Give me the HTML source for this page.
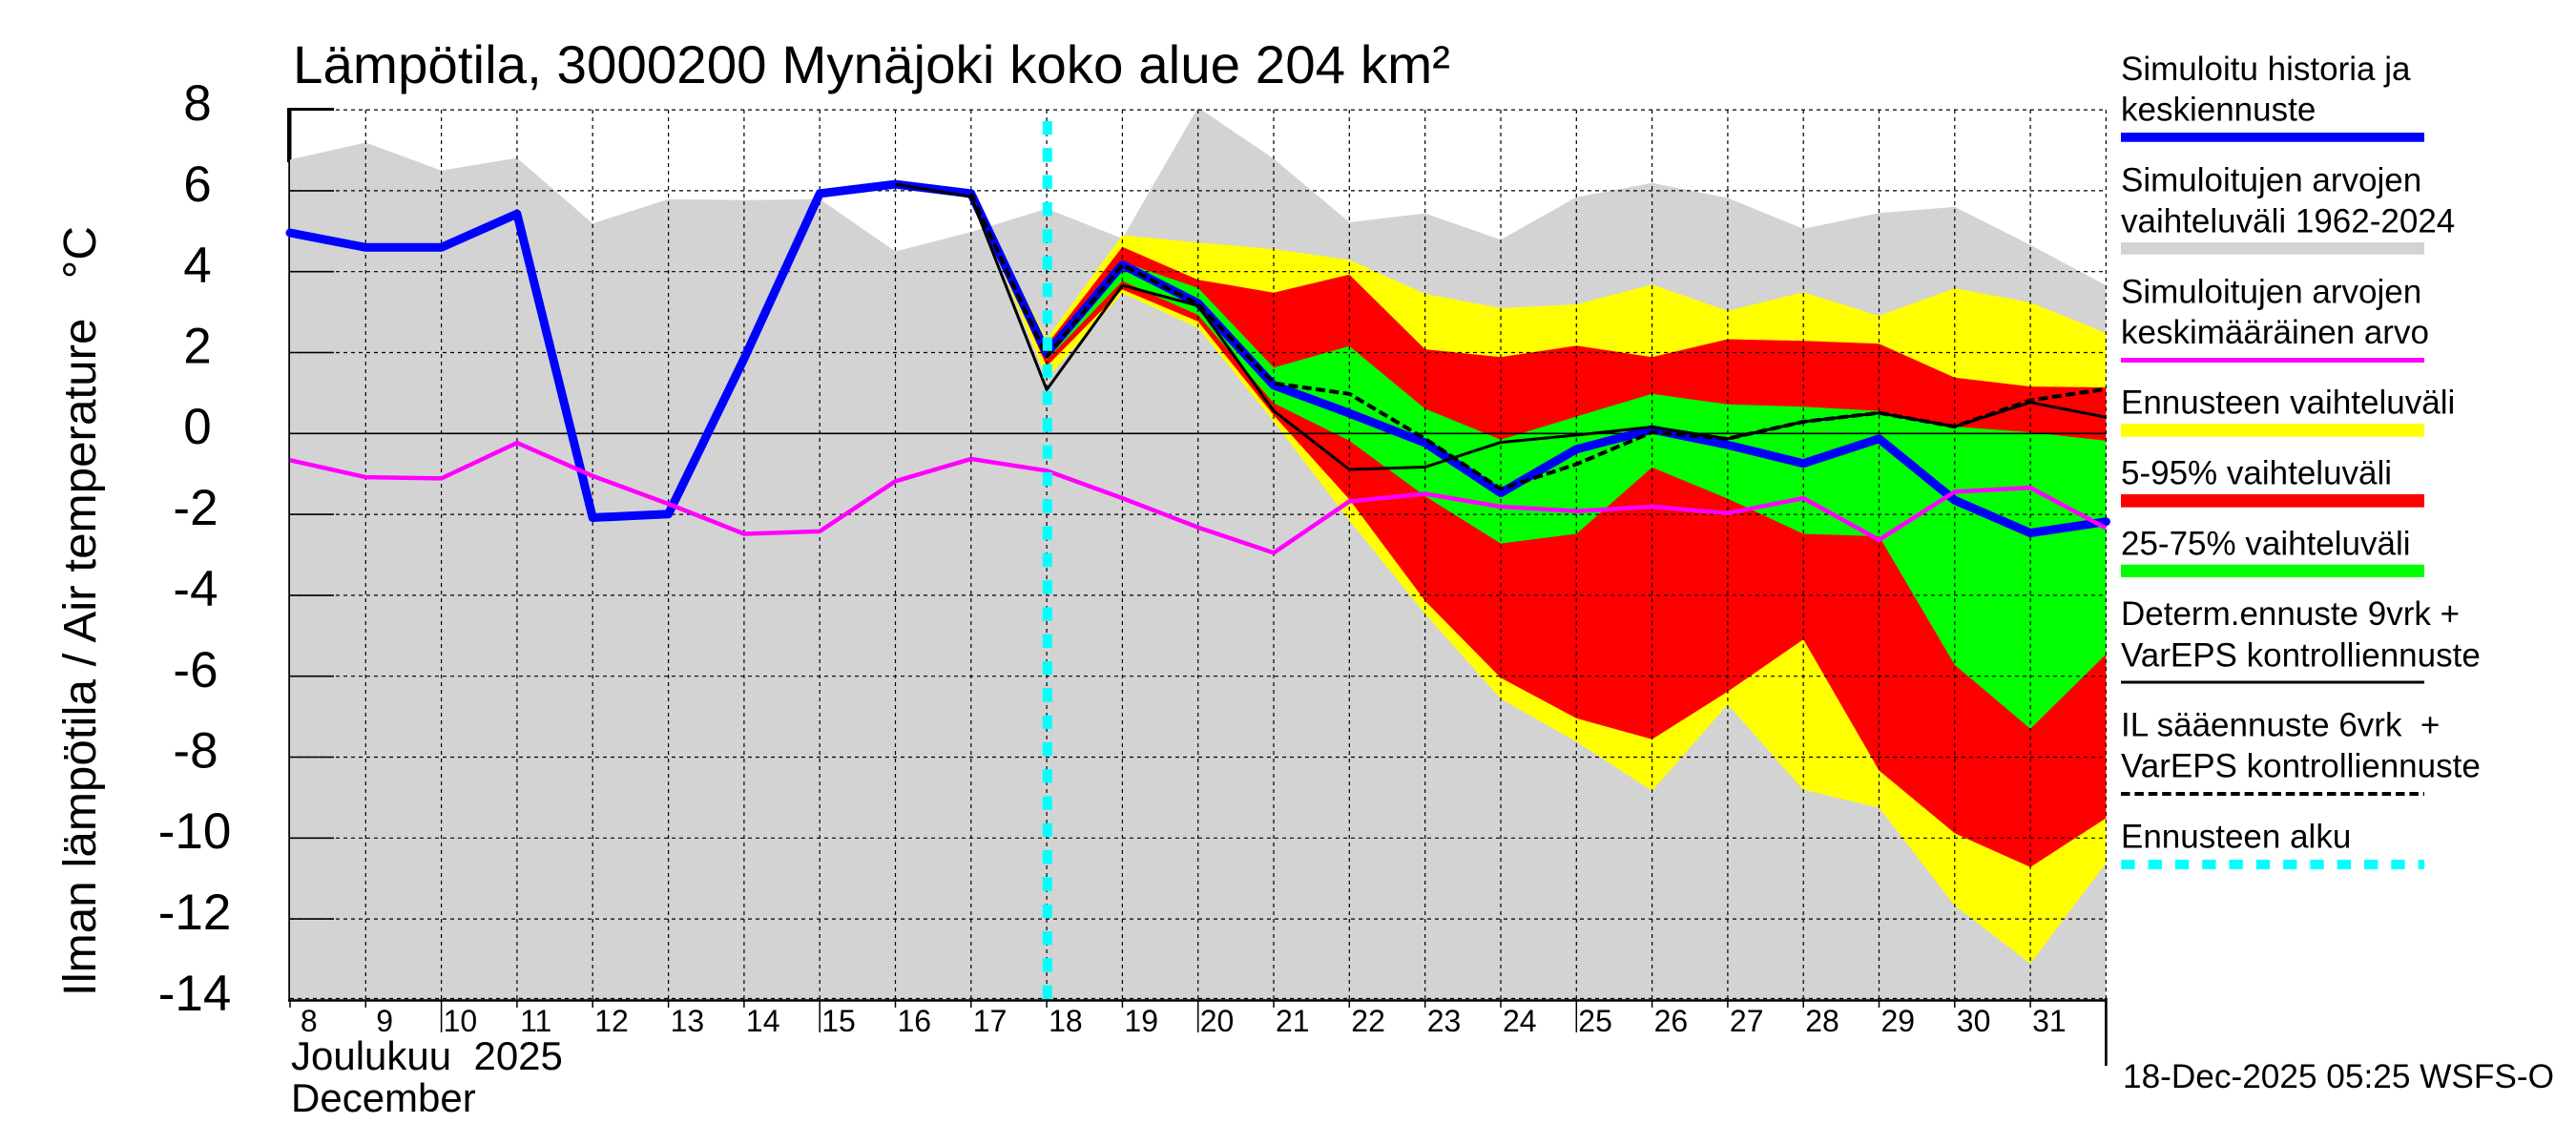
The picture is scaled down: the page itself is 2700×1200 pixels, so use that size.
<!DOCTYPE html>
<html>
<head>
<meta charset="utf-8">
<style>
html,body{margin:0;padding:0;background:#fff;}
svg{display:block;}
text{font-family:"Liberation Sans",Arial,sans-serif;fill:#000;}
</style>
</head>
<body>
<svg width="2700" height="1200" viewBox="0 0 2700 1200" xmlns="http://www.w3.org/2000/svg">
<rect x="0" y="0" width="2700" height="1200" fill="#fff"/>

<!-- left axis thick line (partially covered by grey) -->
<line x1="304" y1="113" x2="304" y2="1049" stroke="#000" stroke-width="3"/>

<!-- grey historical range -->
<polygon fill="#d3d3d3" points="304,167.3 383.3,149.4 462.6,178.7 541.9,165.6 621.2,234.2 700.6,208.8 779.9,209.7 859.2,208.8 938.5,263.5 1017.8,243.1 1097.1,218.6 1176.4,249.9 1255.7,112.6 1335,166.4 1414.3,233 1493.7,223.6 1573,251.2 1652.3,206.7 1731.6,191.8 1810.9,207.5 1890.2,239.8 1969.5,223.2 2048.8,216.9 2128.1,256.7 2207.4,299.1 2207.4,1048 304,1048"/>

<!-- yellow forecast range -->
<polygon fill="#ffff00" points="1017.8,202.9 1097.1,354.7 1176.4,246.5 1255.7,254.2 1335,261 1414.3,272.4 1493.7,308 1573,322.9 1652.3,319 1731.6,298.3 1810.9,325.8 1890.2,306.3 1969.5,330.9 2048.8,302.1 2128.1,316.9 2207.4,349.1 2207.4,904.6 2128.1,1009.7 2048.8,949.1 1969.5,846.5 1890.2,827.8 1810.9,738.4 1731.6,828.7 1652.3,777.4 1573,732.4 1493.7,643.4 1414.3,545.5 1335,441.6 1255.7,343.6 1176.4,307.2 1097.1,397.1"/>

<!-- red 5-95% -->
<polygon fill="#ff0000" points="1017.8,202.9 1097.1,361.4 1176.4,258.8 1255.7,293.2 1335,306.7 1414.3,287.7 1493.7,366.1 1573,374.2 1652.3,362.3 1731.6,374.2 1810.9,355.5 1890.2,357.2 1969.5,360.2 2048.8,395.8 2128.1,405.1 2207.4,406 2207.4,857.5 2128.1,908.8 2048.8,873.2 1969.5,807.5 1890.2,670.1 1810.9,724.8 1731.6,774.8 1652.3,752.8 1573,710.4 1493.7,629.8 1414.3,523.4 1335,435.2 1255.7,336.9 1176.4,303.4 1097.1,383.9"/>

<!-- green 25-75% -->
<polygon fill="#00ff00" points="1017.8,202.9 1097.1,368.2 1176.4,274.5 1255.7,301.7 1335,385.2 1414.3,362.7 1493.7,428.4 1573,460.7 1652.3,436.5 1731.6,412.7 1810.9,423.8 1890.2,426.3 1969.5,430.6 2048.8,447.1 2128.1,453 2207.4,461.9 2207.4,685.8 2128.1,763.8 2048.8,696.8 1969.5,562 1890.2,559.5 1810.9,522.6 1731.6,489.9 1652.3,559.5 1573,569.6 1493.7,520 1414.3,461.9 1335,422.5 1255.7,330.1 1176.4,294.5 1097.1,377.1"/>

<!-- grid: horizontal dashed -->
<g stroke="#000" stroke-width="1.2" stroke-dasharray="4,4" fill="none">
<line x1="304" y1="115.1" x2="2207.4" y2="115.1"/>
<line x1="304" y1="199.9" x2="2207.4" y2="199.9"/>
<line x1="304" y1="284.7" x2="2207.4" y2="284.7"/>
<line x1="304" y1="369.5" x2="2207.4" y2="369.5"/>
<line x1="304" y1="539.1" x2="2207.4" y2="539.1"/>
<line x1="304" y1="623.9" x2="2207.4" y2="623.9"/>
<line x1="304" y1="708.7" x2="2207.4" y2="708.7"/>
<line x1="304" y1="793.5" x2="2207.4" y2="793.5"/>
<line x1="304" y1="878.3" x2="2207.4" y2="878.3"/>
<line x1="304" y1="963.1" x2="2207.4" y2="963.1"/>
<line x1="304" y1="1046.5" x2="2207.4" y2="1046.5"/>
</g>
<!-- grid: vertical dashed -->
<g stroke="#000" stroke-width="1.2" stroke-dasharray="4,4" fill="none">
<line x1="383.3" y1="115" x2="383.3" y2="1048"/>
<line x1="462.6" y1="115" x2="462.6" y2="1048"/>
<line x1="541.9" y1="115" x2="541.9" y2="1048"/>
<line x1="621.2" y1="115" x2="621.2" y2="1048"/>
<line x1="700.6" y1="115" x2="700.6" y2="1048"/>
<line x1="779.9" y1="115" x2="779.9" y2="1048"/>
<line x1="859.2" y1="115" x2="859.2" y2="1048"/>
<line x1="938.5" y1="115" x2="938.5" y2="1048"/>
<line x1="1017.8" y1="115" x2="1017.8" y2="1048"/>
<line x1="1097.1" y1="115" x2="1097.1" y2="1048"/>
<line x1="1176.4" y1="115" x2="1176.4" y2="1048"/>
<line x1="1255.7" y1="115" x2="1255.7" y2="1048"/>
<line x1="1335" y1="115" x2="1335" y2="1048"/>
<line x1="1414.3" y1="115" x2="1414.3" y2="1048"/>
<line x1="1493.7" y1="115" x2="1493.7" y2="1048"/>
<line x1="1573" y1="115" x2="1573" y2="1048"/>
<line x1="1652.3" y1="115" x2="1652.3" y2="1048"/>
<line x1="1731.6" y1="115" x2="1731.6" y2="1048"/>
<line x1="1810.9" y1="115" x2="1810.9" y2="1048"/>
<line x1="1890.2" y1="115" x2="1890.2" y2="1048"/>
<line x1="1969.5" y1="115" x2="1969.5" y2="1048"/>
<line x1="2048.8" y1="115" x2="2048.8" y2="1048"/>
<line x1="2128.1" y1="115" x2="2128.1" y2="1048"/>
<line x1="2207.4" y1="115" x2="2207.4" y2="1048"/>
</g>

<!-- zero line -->
<line x1="304" y1="454.3" x2="2207.4" y2="454.3" stroke="#000" stroke-width="1.6"/>

<!-- y ticks (inward solid) -->
<g stroke="#000" stroke-width="1.6">
<line x1="304" y1="199.9" x2="350" y2="199.9"/>
<line x1="304" y1="284.7" x2="350" y2="284.7"/>
<line x1="304" y1="369.5" x2="350" y2="369.5"/>
<line x1="304" y1="539.1" x2="350" y2="539.1"/>
<line x1="304" y1="623.9" x2="350" y2="623.9"/>
<line x1="304" y1="708.7" x2="350" y2="708.7"/>
<line x1="304" y1="793.5" x2="350" y2="793.5"/>
<line x1="304" y1="878.3" x2="350" y2="878.3"/>
<line x1="304" y1="963.1" x2="350" y2="963.1"/>
</g>
<line x1="302.5" y1="114.5" x2="350" y2="114.5" stroke="#000" stroke-width="3"/>
<line x1="302.5" y1="113" x2="302.5" y2="170" stroke="#000" stroke-width="3"/>
<line x1="303" y1="170" x2="303" y2="1048" stroke="#000" stroke-width="1.5"/>

<!-- bottom axis -->
<line x1="302" y1="1048.5" x2="2208.5" y2="1048.5" stroke="#000" stroke-width="2.6"/>
<!-- x ticks -->
<g stroke="#000" stroke-width="1.5">
<line x1="304" y1="1048" x2="304" y2="1056"/>
<line x1="383.3" y1="1048" x2="383.3" y2="1056"/>
<line x1="462.6" y1="1048" x2="462.6" y2="1082"/>
<line x1="541.9" y1="1048" x2="541.9" y2="1056"/>
<line x1="621.2" y1="1048" x2="621.2" y2="1056"/>
<line x1="700.6" y1="1048" x2="700.6" y2="1056"/>
<line x1="779.9" y1="1048" x2="779.9" y2="1056"/>
<line x1="859.2" y1="1048" x2="859.2" y2="1082"/>
<line x1="938.5" y1="1048" x2="938.5" y2="1056"/>
<line x1="1017.8" y1="1048" x2="1017.8" y2="1056"/>
<line x1="1097.1" y1="1048" x2="1097.1" y2="1056"/>
<line x1="1176.4" y1="1048" x2="1176.4" y2="1056"/>
<line x1="1255.7" y1="1048" x2="1255.7" y2="1082"/>
<line x1="1335" y1="1048" x2="1335" y2="1056"/>
<line x1="1414.3" y1="1048" x2="1414.3" y2="1056"/>
<line x1="1493.7" y1="1048" x2="1493.7" y2="1056"/>
<line x1="1573" y1="1048" x2="1573" y2="1056"/>
<line x1="1652.3" y1="1048" x2="1652.3" y2="1082"/>
<line x1="1731.6" y1="1048" x2="1731.6" y2="1056"/>
<line x1="1810.9" y1="1048" x2="1810.9" y2="1056"/>
<line x1="1890.2" y1="1048" x2="1890.2" y2="1056"/>
<line x1="1969.5" y1="1048" x2="1969.5" y2="1056"/>
<line x1="2048.8" y1="1048" x2="2048.8" y2="1056"/>
<line x1="2128.1" y1="1048" x2="2128.1" y2="1056"/>
</g>
<line x1="2207.4" y1="1046" x2="2207.4" y2="1117" stroke="#000" stroke-width="2.7"/>

<!-- blue simulated history -->
<polyline fill="none" stroke="#0000ff" stroke-width="9" stroke-linejoin="round" stroke-linecap="round" points="304,244 383.3,259.3 462.6,259.3 541.9,224.1 621.2,542.5 700.6,538.7 779.9,375.9 859.2,202.9 938.5,193.1 1017.8,202.9 1097.1,370.3 1176.4,277.5 1255.7,317.8 1335,403.8 1414.3,433.1 1493.7,464.1 1573,516.6 1652.3,470.8 1731.6,450.1 1810.9,466.2 1890.2,485.7 1969.5,459.8 2048.8,524.3 2128.1,558.6 2207.4,546.7"/>

<!-- black deterministic -->
<polyline fill="none" stroke="#000" stroke-width="3" stroke-linejoin="round" points="938.5,193.1 1017.8,206.3 1097.1,408.5 1176.4,299.1 1255.7,320.3 1335,430.6 1414.3,492 1493.7,489.5 1573,463.6 1652.3,456 1731.6,447.5 1810.9,459.8 1890.2,442 1969.5,432.7 2048.8,447.1 2128.1,421.7 2207.4,437.3"/>

<!-- black dashed IL -->
<polyline fill="none" stroke="#000" stroke-width="4" stroke-dasharray="10,4.4" stroke-linejoin="round" points="1017.8,202.9 1097.1,373.7 1176.4,277.5 1255.7,318.6 1335,401.7 1414.3,412.8 1493.7,459.8 1573,512.4 1652.3,486.5 1731.6,453 1810.9,459.8 1890.2,442 1969.5,432.7 2048.8,447.1 2128.1,419.5 2207.4,407.7"/>

<!-- magenta mean -->
<polyline fill="none" stroke="#ff00ff" stroke-width="4.5" stroke-linejoin="round" points="304,482.3 383.3,500.1 462.6,501.4 541.9,464.1 621.2,498.8 700.6,528.1 779.9,559.5 859.2,556.9 938.5,504.3 1017.8,481 1097.1,493.3 1176.4,522.1 1255.7,552.7 1335,579.4 1414.3,525.5 1493.7,517.5 1573,531 1652.3,535.7 1731.6,531 1810.9,537.8 1890.2,522.1 1969.5,565.8 2048.8,515.4 2128.1,511.1 2207.4,553.5"/>

<!-- cyan forecast start -->
<line x1="1097.8" y1="127" x2="1097.8" y2="1048" stroke="#00ffff" stroke-width="10" stroke-dasharray="14.3,14"/>

<!-- title -->
<text x="307" y="87" font-size="56" textLength="1213" lengthAdjust="spacingAndGlyphs">Lämpötila, 3000200 Mynäjoki koko alue 204 km²</text>

<!-- y axis title -->
<text transform="translate(100,1044) rotate(-90)" font-size="48.5" textLength="807" lengthAdjust="spacingAndGlyphs" style="white-space:pre">Ilman lämpötila / Air temperature   °C</text>

<!-- y tick labels -->
<g font-size="53" text-anchor="middle">
<text x="207" y="126">8</text>
<text x="207" y="211">6</text>
<text x="207" y="296">4</text>
<text x="207" y="380.5">2</text>
<text x="207" y="465">0</text>
<text x="205" y="550">-2</text>
<text x="205" y="635">-4</text>
<text x="205" y="720">-6</text>
<text x="205" y="804.5">-8</text>
<text x="204" y="889">-10</text>
<text x="204" y="974">-12</text>
<text x="204" y="1059">-14</text>
</g>

<!-- x tick labels -->
<g font-size="32" text-anchor="middle">
<text x="323.8" y="1081">8</text>
<text x="403.1" y="1081">9</text>
<text x="482.4" y="1081">10</text>
<text x="561.7" y="1081">11</text>
<text x="641" y="1081">12</text>
<text x="720.4" y="1081">13</text>
<text x="799.7" y="1081">14</text>
<text x="879" y="1081">15</text>
<text x="958.3" y="1081">16</text>
<text x="1037.6" y="1081">17</text>
<text x="1116.9" y="1081">18</text>
<text x="1196.2" y="1081">19</text>
<text x="1275.5" y="1081">20</text>
<text x="1354.8" y="1081">21</text>
<text x="1434.1" y="1081">22</text>
<text x="1513.5" y="1081">23</text>
<text x="1592.8" y="1081">24</text>
<text x="1672.1" y="1081">25</text>
<text x="1751.4" y="1081">26</text>
<text x="1830.7" y="1081">27</text>
<text x="1910" y="1081">28</text>
<text x="1989.3" y="1081">29</text>
<text x="2068.6" y="1081">30</text>
<text x="2147.9" y="1081">31</text>
</g>
<text x="305" y="1121" font-size="42" style="white-space:pre">Joulukuu  2025</text>
<text x="305" y="1165" font-size="42">December</text>

<!-- timestamp -->
<text x="2225" y="1140" font-size="35" textLength="452" lengthAdjust="spacingAndGlyphs">18-Dec-2025 05:25 WSFS-O</text>

<!-- legend -->
<g font-size="35">
<text x="2223" y="84">Simuloitu historia ja</text>
<text x="2223" y="126.7">keskiennuste</text>
<rect x="2223" y="139" width="318" height="9.7" fill="#0000ff"/>

<text x="2223" y="200.7">Simuloitujen arvojen</text>
<text x="2223" y="243.3">vaihteluväli 1962-2024</text>
<rect x="2223" y="254" width="318" height="12.7" fill="#d3d3d3"/>

<text x="2223" y="317.3">Simuloitujen arvojen</text>
<text x="2223" y="360">keskimääräinen arvo</text>
<rect x="2223" y="375" width="318" height="5" fill="#ff00ff"/>

<text x="2223" y="433.3">Ennusteen vaihteluväli</text>
<rect x="2223" y="444" width="318" height="13.7" fill="#ffff00"/>

<text x="2223" y="507.3">5-95% vaihteluväli</text>
<rect x="2223" y="518" width="318" height="13.7" fill="#ff0000"/>

<text x="2223" y="581.7">25-75% vaihteluväli</text>
<rect x="2223" y="591.7" width="318" height="13.3" fill="#00ff00"/>

<text x="2223" y="655">Determ.ennuste 9vrk +</text>
<text x="2223" y="698.3">VarEPS kontrolliennuste</text>
<rect x="2223" y="713.5" width="318" height="3" fill="#000"/>

<text x="2223" y="771.7" style="white-space:pre">IL sääennuste 6vrk  +</text>
<text x="2223" y="814.3">VarEPS kontrolliennuste</text>
<line x1="2223" y1="832" x2="2541" y2="832" stroke="#000" stroke-width="4" stroke-dasharray="9.5,4.9"/>

<text x="2223" y="888.3">Ennusteen alku</text>
<line x1="2223.3" y1="906" x2="2541" y2="906" stroke="#00ffff" stroke-width="10" stroke-dasharray="14.3,14"/>
</g>
</svg>
</body>
</html>
